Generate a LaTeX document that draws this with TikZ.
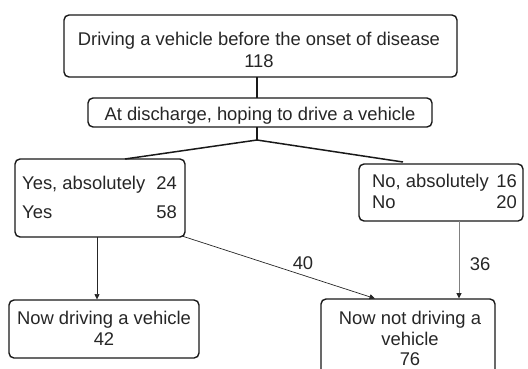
\documentclass[tikz,border=0pt]{standalone}
\usepackage{fontspec}
\setmainfont{Liberation Sans}
\usetikzlibrary{arrows.meta}
\tikzset{
  box/.style={draw=black!90, line width=1.4pt, rounded corners=5pt, inner sep=0pt},
  txt/.style={inner sep=0pt, font=\fontsize{18.4}{22}\selectfont, text=black!85},
  conn/.style={draw=black!90, line width=1.5pt},
  arr/.style={draw=black!85, line width=0.7pt, -{Triangle[length=5.5pt,width=5pt]}},
  garr/.style={draw=black!50, line width=0.9pt, -{Triangle[length=5.5pt,width=5pt,color=black!85]}},
}
\begin{document}
\begin{tikzpicture}[x=1pt,y=-1pt]
\useasboundingbox (0,0) rectangle (528,368);
% boxes
\node[box, minimum width=393pt, minimum height=62pt] (top) at (260.5,46) {};
\node[box, minimum width=344pt, minimum height=29pt] (mid) at (260,112.5) {};
\node[box, minimum width=170pt, minimum height=78pt] (left) at (100,198) {};
\node[box, minimum width=164pt, minimum height=57pt] (right) at (441,192.5) {};
\node[box, minimum width=190pt, minimum height=58pt] (bl) at (104,329) {};
\node[box, minimum width=174pt, minimum height=78pt] (br) at (408,338) {};
% texts
\node[txt, anchor=base] (t1) at (259,45.5) {Driving a vehicle before the onset of disease};
\node[txt, anchor=base] (t2) at (259,67.5) {118};
\node[txt, anchor=base] (m1) at (260,120.5) {At discharge, hoping to drive a vehicle};
\node[txt, anchor=base west] (l1) at (22,189.5) {Yes, absolutely};
\node[txt, anchor=base east] (l1n) at (177,189.5) {24};
\node[txt, anchor=base west] (l2) at (22,218.5) {Yes};
\node[txt, anchor=base east] (l2n) at (177,218.5) {58};
\node[txt, anchor=base west] (r1) at (372,187.5) {No, absolutely};
\node[txt, anchor=base east] (r1n) at (517,187.5) {16};
\node[txt, anchor=base west] (r2) at (372,208.5) {No};
\node[txt, anchor=base east] (r2n) at (517,208.5) {20};
\node[txt, anchor=base] (b1) at (104,324.5) {Now driving a vehicle};
\node[txt, anchor=base] (b2) at (104,345.5) {42};
\node[txt, anchor=base] (c1) at (410,324.5) {Now not driving a};
\node[txt, anchor=base] (c2) at (410,345.5) {vehicle};
\node[txt, anchor=base] (c3) at (410,365) {76};
% connectors
\coordinate (s1) at (257,77);
\coordinate (s2) at (257,98);
\coordinate (s3) at (257,127);
\coordinate (fork) at (257,140);
\coordinate (lt) at (125,159);
\coordinate (rt) at (403,162);
\draw[conn] (s1) -- (s2);
\draw[conn] (s3) -- (fork);
\draw[conn] (lt) -- (fork) -- (rt);
\coordinate (a1) at (97,237);
\coordinate (a1e) at (97,299.5);
\coordinate (a2) at (182,236);
\coordinate (a2e) at (375,298.5);
\coordinate (a3) at (459,221);
\coordinate (a3e) at (459,298.5);
\draw[arr] (a1) -- (a1e);
\draw[arr] (a2) -- (a2e);
\draw[garr] (a3) -- (a3e);
\node[txt] (n40) at (303,263) {40};
\node[txt] (n36) at (480,264) {36};
\end{tikzpicture}
\end{document}
